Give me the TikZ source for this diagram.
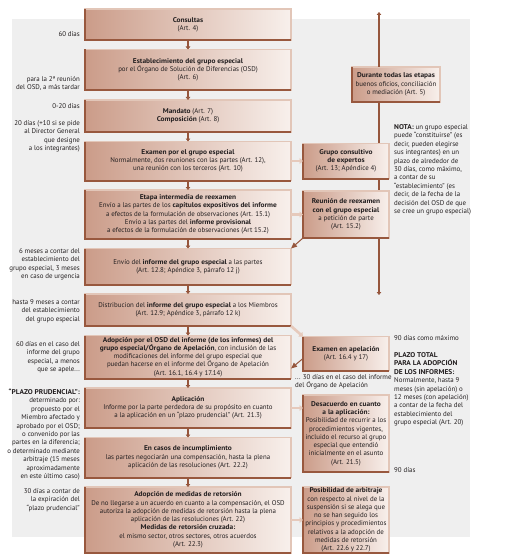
\documentclass[tikz,border=0pt]{standalone}
\usepackage{fontspec}
\setmainfont[BoldFeatures={FakeStretch=1.07}]{PT Sans}
\usetikzlibrary{positioning,arrows.meta}

\definecolor{bggrey}{RGB}{239,239,239}
\definecolor{boxdark}{RGB}{203,156,137}
\definecolor{boxpale}{RGB}{248,240,236}
\definecolor{boxrim}{RGB}{226,198,184}
\definecolor{boxedge}{RGB}{152,88,62}
\definecolor{arrowdark}{RGB}{150,86,60}
\definecolor{arrowlight}{RGB}{230,202,188}
\definecolor{textgrey}{RGB}{35,31,32}

\newcommand{\boxfont}{\fontsize{6.9}{8.25}\selectfont}
\newcommand{\notefont}{\fontsize{6.9}{8.4}\selectfont}

\begin{document}
\begin{tikzpicture}[
	x=1pt, y=-1pt,
	stagebox/.style={rectangle, draw=boxrim, line width=1.2pt, left color=boxdark, right color=boxpale, minimum width=206pt, inner sep=1pt, outer sep=0pt, align=center, font=\boxfont, text=textgrey},
	sidebox/.style={stagebox, minimum width=86pt},
	notetext/.style={font=\notefont, text=textgrey, inner sep=0pt},
	stepdown/.style={draw=arrowdark, line width=1.2pt, -{Triangle[length=3pt,width=4.5pt]}},
	lightarrow/.style={draw=arrowlight, line width=2.6pt, -{Triangle[length=3.5pt,width=6pt]}},
	darkarrow/.style={draw=arrowdark, line width=1pt, -{Triangle[length=6pt,width=5pt]}},
	node distance=9.5pt
	]
	\useasboundingbox (0,0) rectangle (505,559);
	%Background
	\fill[bggrey] (12,19) rectangle (470,537);
	%Main stages
	\node[stagebox, minimum height=31pt] (Consultas) at (188,24.5) {\textbf{Consultas}\\(Art. 4)};
	\node[stagebox, minimum height=41pt, below=of Consultas] (Establecimiento) {\textbf{Establecimiento del grupo especial}\\por el Órgano de Solución de Diferencias (OSD)\\(Art. 6)};
	\node[stagebox, minimum height=32pt, below=of Establecimiento] (Mandato) {\textbf{Mandato} (Art. 7)\\\textbf{Composición} (Art. 8)};
	\node[stagebox, minimum height=39pt, below=of Mandato] (Examen) {\textbf{Examen por el grupo especial}\\Normalmente, dos reuniones con las partes (Art. 12),\\una reunión con los terceros (Art. 10)};
	\node[stagebox, minimum height=49pt, below=of Examen] (Reexamen) {\textbf{Etapa intermedia de reexamen}\\Envío a las partes de los \textbf{capítulos expositivos del informe}\\a efectos de la formulación de observaciones (Art. 15.1)\\Envío a las partes del \textbf{informe provisional}\\a efectos de la formulación de observaciones (Art 15.2)};
	\node[stagebox, minimum height=36pt, below=of Reexamen] (EnvioInforme) {Envío del \textbf{informe del grupo especial} a las partes\\(Art. 12.8; Apéndice 3, párrafo 12 j)};
	\node[stagebox, minimum height=32pt, below=of EnvioInforme] (Distribucion) {Distribucion del \textbf{informe del grupo especial} a los Miembros\\(Art. 12.9; Apéndice 3, párrafo 12 k)};
	\node[stagebox, minimum height=43pt, below=of Distribucion] (Adopcion) {\textbf{Adopción por el OSD del informe (de los informes) del}\\\textbf{grupo especial/Órgano de Apelación}, con inclusión de las\\modificaciones del informe del grupo especial que\\puedan hacerse en el informe del Órgano de Apelación\\(Art. 16.1, 16.4 y 17.14)};
	\node[stagebox, minimum height=40pt, below=of Adopcion] (Aplicacion) {\textbf{Aplicación}\\Informe por la parte perdedora de su propósito en cuanto\\a la aplicación en un “plazo prudencial” (Art. 21.3)};
	\node[stagebox, minimum height=40pt, below=of Aplicacion] (Incumplimiento) {\textbf{En casos de incumplimiento}\\las partes negociarán una compensación, hasta la plena\\aplicación de las resoluciones (Art. 22.2)};
	\node[stagebox, minimum height=66pt, below=of Incumplimiento] (Retorsion) {\textbf{Adopción de medidas de retorsión}\\De no llegarse a un acuerdo en cuanto a la compensación, el OSD\\autoriza la adopción de medidas de retorsión hasta la plena\\aplicación de las resoluciones (Art. 22)\\\textbf{Medidas de retorsión cruzada:}\\el mismo sector, otros sectores, otros acuerdos\\(Art. 22.3)};
	%Side boxes
	\node[sidebox, minimum width=88pt, minimum height=35pt] (Buenos) at (396,84.5) {\textbf{Durante todas las etapas}\\buenos oficios, conciliación\\o mediación (Art. 5)};
	\coordinate (EtapasTop) at (379,12);
	\coordinate (EtapasBottom) at (379,295);
	\draw[stepdown] (EtapasTop |- Buenos.north) -- (EtapasTop);
	\draw[stepdown] (EtapasBottom |- Buenos.south) -- (EtapasBottom);
	\node[sidebox, minimum height=35pt, right=12pt of Examen] (Expertos) {\textbf{Grupo consultivo}\\\textbf{de expertos}\\(Art. 13; Apéndice 4)};
	\node[sidebox, minimum height=47pt, right=12pt of Reexamen] (Reunion) {\textbf{Reunión de reexamen}\\\textbf{con el grupo especial}\\a petición de parte\\(Art. 15.2)};
	\node[sidebox, minimum height=34pt, right=12pt of Adopcion, yshift=3.5pt] (Apelacion) {\textbf{Examen en apelación}\\(Art. 16.4 y 17)};
	\node[sidebox, minimum height=77pt, anchor=north west] (Desacuerdo) at ([xshift=12pt,yshift=-7pt]Aplicacion.north east) {\textbf{Desacuerdo en cuanto}\\\textbf{a la aplicación:}\\Posibilidad de recurrir a los\\procedimientos vigentes,\\incluido el recurso al grupo\\especial que entendió\\inicialmente en el asunto\\(Art. 21.5)};
	\node[sidebox, minimum height=66pt, inner sep=0pt, right=12pt of Retorsion] (Arbitraje) {\textbf{Posibilidad de arbitraje}\\con respecto al nivel de la\\suspensión si se alega que\\no se han seguido los\\principios y procedimientos\\relativos a la adopción de\\medidas de retorsión\\(Art. 22.6 y 22.7)};
	% Shadow edges
	\foreach \b in {Consultas, Establecimiento, Mandato, Examen, Reexamen, EnvioInforme, Distribucion, Adopcion, Aplicacion, Incumplimiento, Retorsion, Buenos, Expertos, Reunion, Apelacion, Desacuerdo, Arbitraje}
		\draw[boxedge, line width=2pt] (\b.north west) -- (\b.south west) -- (\b.south east);
	%Lines
	\foreach \a/\b in {Consultas/Establecimiento, Establecimiento/Mandato, Mandato/Examen, Examen/Reexamen, Reexamen/EnvioInforme, EnvioInforme/Distribucion, Distribucion/Adopcion, Adopcion/Aplicacion, Aplicacion/Incumplimiento, Incumplimiento/Retorsion}
		\draw[stepdown] (\a) -- (\b);
	\draw[lightarrow] (Examen) -- (Expertos);
	\draw[lightarrow] (Reexamen) -- (Reunion);
	\draw[lightarrow] (Aplicacion.east) -- (Aplicacion.east -| Desacuerdo.west);
	\draw[lightarrow] (Retorsion) -- (Arbitraje);
	\draw[lightarrow] (Distribucion.south east) -- (Apelacion.north west);
	\draw[darkarrow] (Reunion.south west) -- (EnvioInforme.north east);
	\draw[darkarrow] ([yshift=-5pt]Apelacion.west) -- ([yshift=-11.5pt]Adopcion.east);
	%Time limits (base = last line)
	\node[notetext, anchor=base east, align=right] (PlazoConsultas) at (80,36.5) {60 días};
	\node[notetext, anchor=base east, align=right] (PlazoReunion) at (80,89.9) {para la 2ª reunión\\del OSD, a más tardar};
	\node[notetext, anchor=base east, align=right] (PlazoMandato) at (80,108.5) {0-20 días};
	\node[notetext, anchor=base east, align=right] (PlazoComposicion) at (80,150.7) {20 días (+10 si se pide\\al Director General\\que designe\\a los integrantes)};
	\node[notetext, anchor=base east, align=right] (PlazoEnvio) at (80,278.7) {6 meses a contar del\\establecimiento del\\grupo especial, 3 meses\\en caso de urgencia};
	\node[notetext, anchor=base east, align=right] (PlazoDistribucion) at (80,321.3) {hasta 9 meses a contar\\del establecimiento\\del grupo especial};
	\node[notetext, anchor=base east, align=right] (PlazoAdopcion) at (80,371.7) {60 días en el caso del\\informe del grupo\\especial, a menos\\que se apele...};
	\node[notetext, anchor=base east, align=right] (PlazoPrudencial) at (80,478.5) {\textbf{“PLAZO PRUDENCIAL”:}\\determinado por:\\propuesto por el\\Miembro afectado y\\aprobado por el OSD;\\o convenido por las\\partes en la diferencia;\\o determinado mediante\\arbitraje (15 meses\\aproximadamente\\en este último caso)};
	\node[notetext, anchor=base east, align=right] (PlazoRetorsion) at (80,510.3) {30 días a contar de\\la expiración del\\“plazo prudencial”};
	%Notes on the right
	\node[notetext, anchor=base west, align=left] (Nota) at (394,213.5) {\textbf{NOTA:} un grupo especial\\puede “constituirse” (es\\decir, pueden elegirse\\sus integrantes) en un\\plazo de alrededor de\\30 días, como máximo,\\a contar de su\\“establecimiento” (es\\decir, de la fecha de la\\decisión del OSD de que\\se cree un grupo especial)};
	\node[notetext, anchor=base west, align=left] (PlazoApelacion) at (295,387.9) {... 30 días en el caso del informe\\del Órgano de Apelación};
	\node[notetext, anchor=base west, align=left] (Maximo) at (394,340.5) {90 días como máximo};
	\node[notetext, anchor=base west, align=left] (PlazoTotal) at (394,424.7) {\textbf{PLAZO TOTAL}\\\textbf{PARA LA ADOPCIÓN}\\\textbf{DE LOS INFORMES:}\\Normalmente, hasta 9\\meses (sin apelación) o\\12 meses (con apelación)\\a contar de la fecha del\\establecimiento del\\grupo especial (Art. 20)};
	\node[notetext, anchor=base west, align=left] (PlazoDesacuerdo) at (394,472.5) {90 días};
\end{tikzpicture}
\end{document}
